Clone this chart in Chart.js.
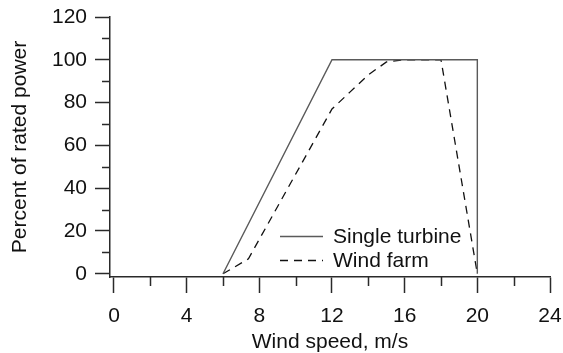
<!DOCTYPE html>
<html>
<head>
<meta charset="utf-8">
<script src="https://cdn.jsdelivr.net/npm/chart.js@4/dist/chart.umd.min.js"></script>
<style>
  html, body { margin: 0; padding: 0; background: #fff; }
  #wrap { width: 563px; height: 353px; }
</style>
</head>
<body>
<div id="wrap"><canvas id="powerCurve"></canvas></div>
<script>
// data
const singleX = [6, 12, 20, 20];
const singleY = [0, 100, 100, 0];
const farmX = [6, 7.4, 12, 13, 14, 15, 16, 18, 20];
const farmY = [0, 7, 77, 85, 93, 99, 100, 100, 0];
const xTicks = [0, 2, 4, 6, 8, 10, 12, 14, 16, 18, 20, 22, 24];
const yTicks = [0, 10, 20, 30, 40, 50, 60, 70, 80, 90, 100, 110, 120];
const seriesNames = ['Single turbine', 'Wind farm'];

const FONT = { family: 'Liberation Sans, Arial, Helvetica, sans-serif', size: 21 };
const AXIS = '#2a2a2a';

const toPoints = (xs, ys) => xs.map((x, i) => ({ x: x, y: ys[i] }));

// short minor ticks + legend drawn inside the plot
const extras = {
    id: 'extras',
    afterDraw(chart) {
        const ctx = chart.ctx;
        const xs = chart.scales.x, ys = chart.scales.y;
        const area = chart.chartArea;
        ctx.save();
        ctx.strokeStyle = AXIS;
        ctx.lineWidth = 1.5;
        ctx.beginPath();
        xTicks.filter(v => v % 4 !== 0).forEach(v => {
            const px = Math.round(xs.getPixelForValue(v)) + 0.5;
            ctx.moveTo(px, area.bottom);
            ctx.lineTo(px, area.bottom + 9);
        });
        yTicks.filter(v => v % 20 !== 0).forEach(v => {
            const py = Math.round(ys.getPixelForValue(v)) + 0.5;
            ctx.moveTo(area.left, py);
            ctx.lineTo(area.left - 8, py);
        });
        ctx.stroke();

        // legend
        const lx = area.left + 170, tx = area.left + 223;
        const rows = [area.top + 219, area.top + 243];
        chart.data.datasets.forEach((ds, i) => {
            ctx.beginPath();
            ctx.strokeStyle = ds.borderColor;
            ctx.lineWidth = ds.borderWidth;
            ctx.setLineDash(ds.borderDash || []);
            ctx.moveTo(lx, rows[i] + 0.5);
            ctx.lineTo(lx + 43, rows[i] + 0.5);
            ctx.stroke();
            ctx.setLineDash([]);
            ctx.fillStyle = '#111';
            ctx.font = FONT.size + 'px ' + FONT.family;
            ctx.textBaseline = 'middle';
            ctx.textAlign = 'left';
            ctx.fillText(ds.label, tx, rows[i] + 1);
        });
        ctx.restore();
    }
};

new Chart(document.getElementById('powerCurve'), {
    type: 'line',
    data: {
        datasets: [
            {
                label: seriesNames[0],
                data: toPoints(singleX, singleY),
                borderColor: '#5a5a5a',
                borderWidth: 1.4,
                pointRadius: 0,
                tension: 0,
                fill: false
            },
            {
                label: seriesNames[1],
                data: toPoints(farmX, farmY),
                borderColor: '#111',
                borderWidth: 1.3,
                borderDash: [8, 6],
                pointRadius: 0,
                tension: 0,
                fill: false
            }
        ]
    },
    options: {
        responsive: true,
        maintainAspectRatio: false,
        animation: false,
        layout: { padding: { left: 0, right: 13, top: 17, bottom: 0 } },
        plugins: { legend: { display: false }, tooltip: { enabled: false } },
        scales: {
            x: {
                type: 'linear',
                min: -0.22,
                max: 24,
                afterBuildTicks: s => { s.ticks = xTicks.map(v => ({ value: v })); },
                afterFit: s => { s.height = 76; s.paddingLeft = 0; s.paddingRight = 0; },
                ticks: {
                    autoSkip: false,
                    maxRotation: 0,
                    padding: 11,
                    color: '#111',
                    font: FONT,
                    callback: v => (v % 4 === 0 ? v : '')
                },
                grid: {
                    drawOnChartArea: false,
                    tickLength: 16,
                    tickWidth: 1.5,
                    tickColor: c => (c.tick && c.tick.value % 4 === 0 ? AXIS : 'rgba(0,0,0,0)')
                },
                border: { color: AXIS, width: 1.5 },
                title: {
                    display: true,
                    text: 'Wind speed, m/s',
                    color: '#111',
                    font: { family: FONT.family, size: 21, lineHeight: 1 },
                    padding: { top: 0, bottom: 0 }
                }
            },
            y: {
                type: 'linear',
                min: -1.5,
                max: 120,
                afterBuildTicks: s => { s.ticks = yTicks.map(v => ({ value: v })); },
                afterFit: s => { s.width = 110; s.paddingTop = 0; s.paddingBottom = 0; },
                ticks: {
                    autoSkip: false,
                    padding: 8,
                    color: '#111',
                    font: FONT,
                    callback: v => (v % 20 === 0 ? v : '')
                },
                grid: {
                    drawOnChartArea: false,
                    tickLength: 15,
                    tickWidth: 1.5,
                    tickColor: c => (c.tick && c.tick.value % 20 === 0 ? AXIS : 'rgba(0,0,0,0)')
                },
                border: { color: AXIS, width: 1.5 },
                title: {
                    display: true,
                    text: 'Percent of rated power',
                    color: '#111',
                    font: FONT,
                    padding: { top: 8, bottom: 0 }
                }
            }
        }
    },
    plugins: [extras]
});
</script>
</body>
</html>
